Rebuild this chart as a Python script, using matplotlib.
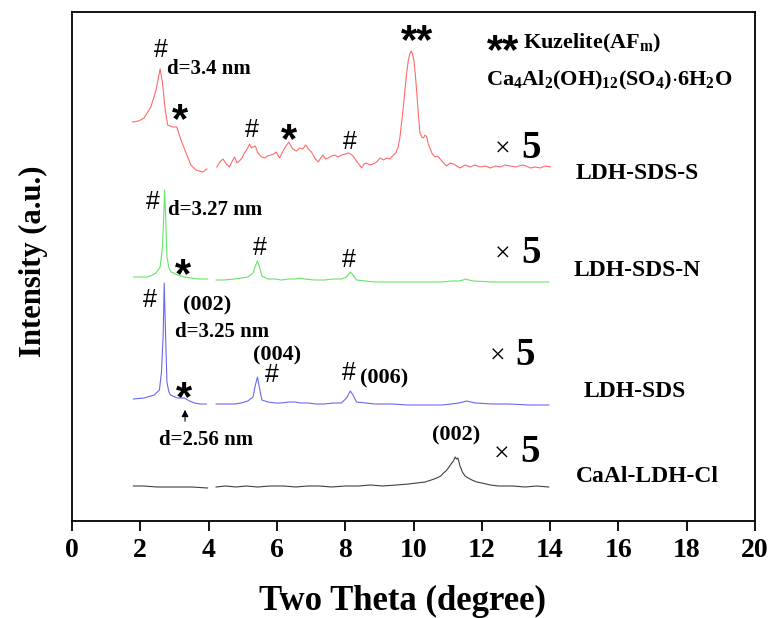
import matplotlib
matplotlib.use('Agg')
import matplotlib.pyplot as plt

plt.rcParams['font.family'] = 'Liberation Serif'
plt.rcParams['font.weight'] = 'bold'
plt.rcParams['mathtext.fontset'] = 'custom'
plt.rcParams['mathtext.rm'] = 'Liberation Serif:bold'
plt.rcParams['mathtext.it'] = 'Liberation Serif:italic:bold'
plt.rcParams['mathtext.bf'] = 'Liberation Serif:bold'

# XRD patterns, two theta (degree) vs intensity (a.u.); each scan has a gap near 4 deg
# LDH-SDS-S
s_x1 = [1.77, 1.95, 2.11, 2.31, 2.46, 2.58, 2.65, 2.72, 2.80, 2.95, 3.07, 3.19, 3.34, 3.48, 3.63, 3.83, 3.95]
s_y1 = [46, 47, 50, 61, 78, 99, 85, 61, 43, 41, 41, 28, 15, 3, -2, -4, -1]
s_x2 = [4.24, 4.33, 4.42, 4.52, 4.61, 4.68, 4.76, 4.83, 4.90, 4.98,
        5.05, 5.13, 5.20, 5.25, 5.30, 5.37, 5.43, 5.49, 5.56, 5.64,
        5.72, 5.83, 5.90, 5.98, 6.08, 6.15, 6.23, 6.35, 6.41, 6.47,
        6.57, 6.67, 6.76, 6.84, 6.92, 7.01, 7.11, 7.21, 7.28, 7.35,
        7.42, 7.50, 7.60, 7.69, 7.79, 7.89, 7.99, 8.09, 8.16, 8.23,
        8.35, 8.42, 8.48, 8.55, 8.62, 8.72, 8.82, 8.92, 9.02, 9.12,
        9.21, 9.31, 9.41, 9.48, 9.55, 9.60, 9.65, 9.70, 9.75, 9.80,
        9.85, 9.89, 9.93, 9.97, 10.01, 10.05, 10.09, 10.14, 10.19, 10.24,
        10.29, 10.34, 10.39, 10.43, 10.48, 10.55, 10.63, 10.70, 10.78, 10.88,
        10.97, 11.07, 11.17, 11.27, 11.37, 11.51, 11.66, 11.80, 11.95, 12.10,
        12.25, 12.40, 12.54, 12.68, 12.83, 13.00, 13.18, 13.30, 13.42, 13.56,
        13.71, 13.86, 14.01]
s_y2 = [1, 6, 9, 4, 1, 6, 11, 5, 7, 10,
        15, 19, 24, 20, 21, 22, 16, 13, 11, 10,
        12, 13, 14, 16, 10, 15, 20, 26, 22, 19,
        17, 20, 19, 23, 19, 16, 10, 6, 10, 13,
        9, 10, 12, 13, 11, 13, 14, 15, 14, 12,
        6, 3, 0, 4, 5, 3, 4, 6, 10, 8,
        10, 9, 13, 15, 21, 30, 45, 60, 78, 95,
        108, 114, 117, 114, 108, 95, 78, 55, 35, 31,
        30, 33, 31, 24, 20, 14, 11, 12, 9, 5,
        2, 5, 4, 2, 0, 3, 1, 3, 1, 2,
        0, 2, 1, 3, 2, 1, 3, 2, 0, 1,
        0, 2, 1]

# LDH-SDS-N
n_x1 = [1.80, 2.00, 2.21, 2.35, 2.46, 2.58, 2.65, 2.69, 2.71, 2.74, 2.78, 2.84, 2.90, 3.09, 3.29, 3.48, 3.70, 3.97]
n_y1 = [3, 3, 3, 5, 7, 13, 33, 67, 90, 67, 23, 12, 8, 5, 3, 2, 1, 1]
n_x2 = [4.22, 4.45, 4.76, 4.95, 5.15, 5.30, 5.37, 5.43, 5.49, 5.56,
        5.74, 5.95, 6.13, 6.35, 6.52, 6.68, 6.81, 7.10, 7.40, 7.65,
        7.89, 8.04, 8.15, 8.23, 8.33, 8.60, 8.87, 9.35, 9.85, 10.35,
        10.83, 11.10, 11.32, 11.45, 11.53, 11.62, 11.76, 12.30, 12.79, 13.40,
        13.96]
n_y2 = [0, 0, 1, 2, 3, 7, 14, 19, 13, 4,
        1, 1, 0, 1, 1, 2, 1, 0, 0, 1,
        1, 3, 8, 5, 0, -1, -2, -2, -2, -2,
        -2, -1, -1, 0, 1, 0, -1, -2, -2, -2,
        -2]

# LDH-SDS
b_x1 = [1.80, 2.11, 2.41, 2.56, 2.62, 2.67, 2.70, 2.74, 2.78, 2.83, 2.88, 3.09, 3.20, 3.29, 3.44, 3.58, 3.75, 3.93]
b_y1 = [5, 6, 9, 14, 32, 69, 121, 69, 22, 13, 9, 6, 6, 6, 3, 1, 0, 0]
b_x2 = [4.22, 4.45, 4.76, 4.95, 5.15, 5.30, 5.37, 5.43, 5.49, 5.56,
        5.74, 5.95, 6.13, 6.35, 6.52, 6.70, 6.91, 7.15, 7.40, 7.65,
        7.89, 8.04, 8.15, 8.23, 8.33, 8.60, 8.87, 9.35, 9.85, 10.35,
        10.83, 11.10, 11.32, 11.45, 11.56, 11.68, 11.81, 12.30, 12.79, 13.40,
        13.96]
b_y2 = [0, 0, 0, 1, 3, 7, 19, 27, 16, 4,
        2, 1, 1, 2, 2, 1, 1, 0, 0, 1,
        1, 6, 13, 9, 2, 1, 0, 0, -1, -1,
        -1, 0, 1, 2, 3, 2, 1, 0, 0, -1,
        -1]

# CaAl-LDH-Cl
c_x1 = [1.80, 2.10, 2.50, 2.80, 3.09, 3.50, 3.97]
c_y1 = [1, 1, 0, 0, 0, 0, -1]
c_x2 = [4.22, 4.50, 4.80, 5.10, 5.44, 5.80, 6.20, 6.55, 6.91, 7.25,
        7.60, 8.00, 8.38, 8.75, 9.10, 9.50, 9.85, 10.10, 10.34, 10.52,
        10.68, 10.80, 10.88, 10.95, 11.02, 11.08, 11.12, 11.17, 11.22, 11.26,
        11.30, 11.34, 11.37, 11.40, 11.43, 11.47, 11.51, 11.60, 11.71, 11.85,
        12.00, 12.25, 12.49, 12.90, 13.27, 13.60, 13.96]
c_y2 = [0, 1, 0, 1, 0, 1, 1, 0, 1, 1,
        0, 1, 1, 2, 1, 2, 3, 4, 5, 7,
        9, 11, 14, 16, 19, 22, 24, 26, 30, 28,
        29, 24, 20, 18, 15, 13, 11, 9, 7, 5,
        4, 2, 1, 1, 0, 1, 0]

names = ['LDH-SDS-S', 'LDH-SDS-N', 'LDH-SDS', 'CaAl-LDH-Cl']

# vertical stacking and colours
offsets = [353, 241, 117, 34]
colors = ['#ff6a6a', '#66e566', '#6868f5', '#404040']
scans = [(s_x1, s_y1, s_x2, s_y2), (n_x1, n_y1, n_x2, n_y2),
         (b_x1, b_y1, b_x2, b_y2), (c_x1, c_y1, c_x2, c_y2)]

fig = plt.figure(figsize=(7.7, 6.18), dpi=100)
ax = fig.add_axes([72 / 770, 1 - 521 / 618, 683 / 770, 509 / 618])

for (x1, y1, x2, y2), off, col in zip(scans, offsets, colors):
    ax.plot(x1, [v + off for v in y1], color=col, lw=0.8)
    ax.plot(x2, [v + off for v in y2], color=col, lw=0.8)


def hash_mark(x, y):
    ax.text(x, y, '#', family='Liberation Sans', weight='normal', fontsize=18,
            ha='center', va='center')


def star(x, y, s='*'):
    ax.annotate(s, (x, y), xytext=(0, -6.5), textcoords='offset points',
                family='Liberation Sans', weight='bold', fontsize=30,
                ha='center', va='center')


def note(x, y, s, size=15, ha='left'):
    ax.text(x, y, s, fontsize=size, fontweight='bold', ha=ha, va='center')


def times_five(x, y):
    ax.text(x, y, '\u00d7', fontsize=20, fontweight='normal', ha='center', va='center')
    ax.text(x + 0.82, y + 2, '5', fontsize=28, fontweight='bold', ha='center', va='center')


# LDH-SDS-S marks
hash_mark(2.61, 471)
note(2.78, 452, 'd=3.4 nm')
star(3.16, 409)
hash_mark(5.27, 391)
star(6.35, 389)
hash_mark(8.14, 379)
star(10.10, 488, '**')
star(12.62, 478, '**')
note(13.2, 478, r'Kuzelite(AF$_\mathrm{m}$)', size=16)
note(12.12, 441, r'Ca$_4$Al$_2$(OH)$_{12}$(SO$_4$)$\cdot$6H$_2$O', size=16)

# LDH-SDS-N marks
hash_mark(2.37, 319)
note(2.81, 311, 'd=3.27 nm')
star(3.25, 254)
hash_mark(5.51, 273)
hash_mark(8.11, 261)

# LDH-SDS marks
hash_mark(2.28, 221)
note(3.95, 216, '(002)', size=16, ha='center')
note(3.02, 189, 'd=3.25 nm')
note(6.00, 166, '(004)', size=16, ha='center')
hash_mark(5.86, 146)
star(3.28, 131)
hash_mark(8.11, 148)
note(8.43, 143, '(006)', size=16)
ax.annotate('', xy=(3.31, 114), xytext=(3.31, 97),
            arrowprops=dict(arrowstyle='-|>', color='black', lw=0.8,
                            mutation_scale=10))
note(3.92, 81, 'd=2.56 nm', ha='center')

# CaAl-LDH-Cl marks
note(11.24, 86, '(002)', size=16, ha='center')

times_five(12.62, 371)
times_five(12.62, 266)
times_five(12.45, 164)
times_five(12.59, 66)

label_pos = [(16.54, 348), (16.54, 251), (16.49, 130), (16.84, 45)]
for name, (lx, ly) in zip(names, label_pos):
    note(lx, ly, name, size=17, ha='center')

ax.set_xlim(0, 20)
ax.set_ylim(0, 509)
ax.set_xticks(range(0, 21, 2))
ax.set_yticks([])
ax.tick_params(axis='x', direction='out', length=7, width=1.3, labelsize=20, pad=5)
for sp in ax.spines.values():
    sp.set_linewidth(1.3)

ax.set_xlabel('Two Theta (degree)', fontsize=25, fontweight='bold')
ax.xaxis.set_label_coords(0.484, -0.125)
ax.set_ylabel('Intensity (a.u.)', fontsize=22, fontweight='bold')
ax.yaxis.set_label_coords(-0.035, 0.51)

fig.savefig('out.png', dpi=100)
